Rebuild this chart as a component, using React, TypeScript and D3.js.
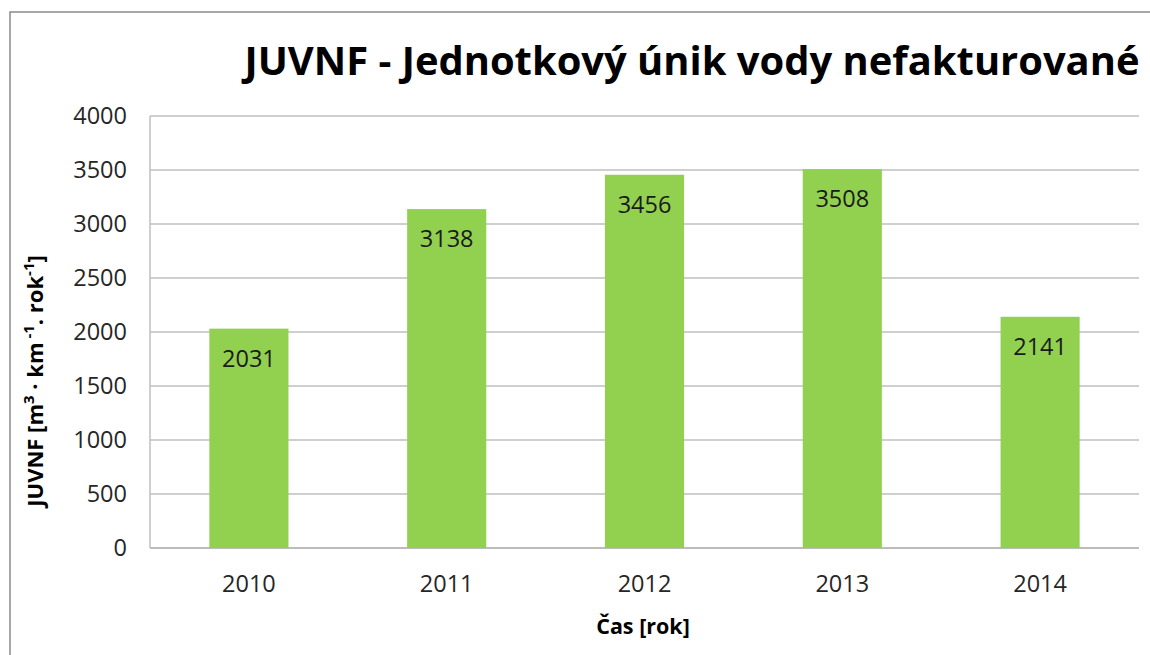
import React from "react";
import * as d3 from "d3";

const categories = ["2010", "2011", "2012", "2013", "2014"];
const values = [2031, 3138, 3456, 3508, 2141];
const yTicks = [0, 500, 1000, 1500, 2000, 2500, 3000, 3500, 4000];
const titleText = "JUVNF - Jednotkový únik vody nefakturované";
const xAxisTitle = "Čas [rok]";

const W = 1150;
const H = 655;
const plot = { left: 150, right: 1139, top: 116, bottom: 548 };
const FONT = "'Open Sans', 'Noto Sans', sans-serif";

export default function App() {
  const x = d3
    .scaleBand<string>()
    .domain(categories)
    .range([plot.left, plot.right])
    .paddingInner(0.6)
    .paddingOuter(0.3);
  const y = d3.scaleLinear().domain([0, 4000]).range([plot.bottom, plot.top]);

  return (
    <div style={{ position: "absolute", left: 0, top: 0 }}>
      <svg width={W} height={H} style={{ display: "block", fontFamily: FONT }}>
        <rect x={0} y={0} width={W} height={H} fill="#fff" />
        <rect x={10} y={12} width={W + 20} height={H + 20} fill="#fff" stroke="#8a8a8a" strokeWidth={1.5} />
        <text
          x={692}
          y={75}
          textAnchor="middle"
          fontSize={40}
          fontWeight="bold"
          fill="#000"
          textLength={895}
          lengthAdjust="spacingAndGlyphs"
        >
          {titleText}
        </text>
        {yTicks.map((t) => (
          <g key={t}>
            <line
              x1={plot.left}
              x2={plot.right}
              y1={y(t)}
              y2={y(t)}
              stroke={t === 0 ? "#a6a6a6" : "#bfbfbf"}
              strokeWidth={1.5}
            />
            <text
              x={127}
              y={y(t)}
              dy="0.35em"
              textAnchor="end"
              fontSize={23.5}
              fill="#262626"
            >
              {t}
            </text>
          </g>
        ))}
        <line x1={plot.left} x2={plot.left} y1={plot.top} y2={plot.bottom} stroke="#bfbfbf" strokeWidth={1.5} />
        {categories.map((c, i) => (
          <g key={c}>
            <rect
              x={x(c)}
              y={y(values[i])}
              width={x.bandwidth()}
              height={plot.bottom - y(values[i])}
              fill="#92d050"
            />
            <text
              x={(x(c) as number) + x.bandwidth() / 2}
              y={y(values[i]) + 30}
              dy="0.35em"
              textAnchor="middle"
              fontSize={23.5}
              fill="#1a1a1a"
            >
              {values[i]}
            </text>
            <text
              x={(x(c) as number) + x.bandwidth() / 2}
              y={584}
              dy="0.35em"
              textAnchor="middle"
              fontSize={23.5}
              fill="#262626"
            >
              {c}
            </text>
          </g>
        ))}
        <text x={643} y={634} textAnchor="middle" fontSize={21.5} fontWeight="bold" fill="#000">
          {xAxisTitle}
        </text>
        <text
          transform="translate(43,381) rotate(-90)"
          textAnchor="middle"
          fontSize={22}
          fontWeight="bold"
          fill="#000"
        >
          <tspan>JUVNF [m</tspan>
          <tspan fontSize={15} dy={-9}>3</tspan>
          <tspan dy={9}> · km</tspan>
          <tspan fontSize={15} dy={-9}> -1</tspan>
          <tspan dy={9}>. rok</tspan>
          <tspan fontSize={15} dy={-9}>-1</tspan>
          <tspan dy={9}>]</tspan>
        </text>
      </svg>
    </div>
  );
}
